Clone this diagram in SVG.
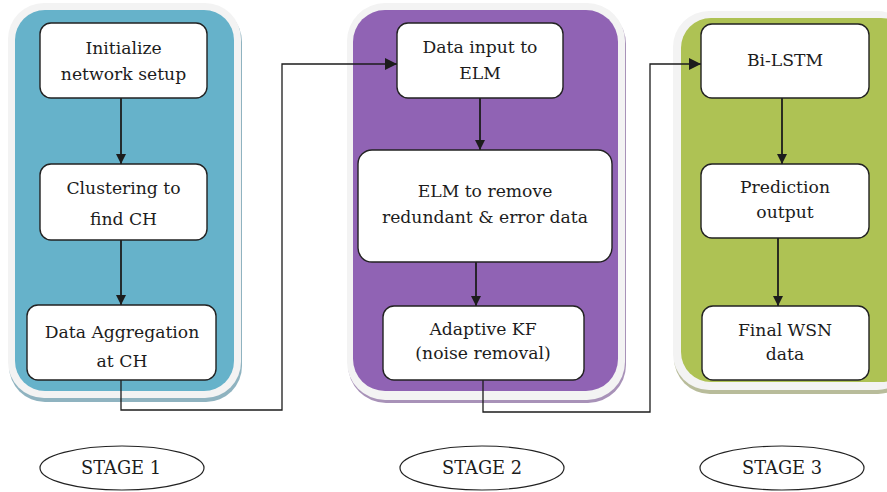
<svg xmlns="http://www.w3.org/2000/svg" width="887" height="492" viewBox="0 0 887 492">
  <style>
    .frame { fill: #f3f3f3; }
    .node rect { fill: #ffffff; stroke: #222222; stroke-width: 1.4; }
    .label { font-family: 'DejaVu Serif', serif; font-size: 17.2px; fill: #1c1c1c; text-anchor: middle; }
    .stage ellipse { fill: #ffffff; stroke: #222222; stroke-width: 1.2; }
    .stage text { font-family: 'DejaVu Serif', serif; font-size: 19px; fill: #1c1c1c; text-anchor: middle; }
    .link { fill: none; stroke: #1c1c1c; stroke-width: 1.3; }
    .flow { fill: none; stroke: #1c1c1c; stroke-width: 1.8; }
  </style>
  <defs>
    <marker id="arrow" viewBox="0 0 10 10" refX="10" refY="5" markerWidth="10" markerHeight="10" markerUnits="userSpaceOnUse" orient="auto">
      <path d="M0,0 L10,5 L0,10 Z" fill="#1c1c1c"/>
    </marker>
    <marker id="arrowBig" viewBox="0 0 10 10" refX="10" refY="5" markerWidth="12" markerHeight="12" markerUnits="userSpaceOnUse" orient="auto">
      <path d="M0,0 L10,5 L0,10 Z" fill="#1c1c1c"/>
    </marker>
  </defs>

  <rect width="887" height="492" fill="#ffffff"/>

  <!-- stage panels: soft shadow, light frame, coloured body -->
  <g id="panel1">
    <rect x="9" y="6" width="233" height="396" rx="36" fill="#8fb3c0"/>
    <rect x="8" y="3" width="233" height="395" rx="36" class="frame"/>
    <rect x="15" y="10" width="219" height="381" rx="30" fill="#66b2ca"/>
  </g>
  <g id="panel2">
    <rect x="348" y="6" width="278" height="397" rx="38" fill="#a892b8"/>
    <rect x="347" y="3" width="278" height="397" rx="38" class="frame"/>
    <rect x="353" y="10" width="265" height="381" rx="32" fill="#9063b4"/>
  </g>
  <g id="panel3">
    <rect x="674" y="14" width="240" height="380" rx="36" fill="#b8bc9a"/>
    <rect x="673" y="11" width="240" height="379" rx="36" class="frame"/>
    <rect x="681" y="18" width="230" height="364" rx="30" fill="#aec254"/>
  </g>

  <!-- connectors -->
  <g id="connectors">
    <line class="flow" x1="121" y1="98" x2="121" y2="164" marker-end="url(#arrow)"/>
    <line class="flow" x1="121" y1="240" x2="121" y2="305" marker-end="url(#arrow)"/>
    <polyline class="link" points="121,380 121,410 282,410 282,64 397,64" marker-end="url(#arrowBig)"/>
    <line class="flow" x1="480" y1="98" x2="480" y2="150" marker-end="url(#arrow)"/>
    <line class="flow" x1="476" y1="262" x2="476" y2="306" marker-end="url(#arrow)"/>
    <polyline class="link" points="483,380 483,412 650,412 650,64 701,64" marker-end="url(#arrowBig)"/>
    <line class="flow" x1="782" y1="98" x2="782" y2="164" marker-end="url(#arrow)"/>
    <line class="flow" x1="778" y1="238" x2="778" y2="306" marker-end="url(#arrow)"/>
  </g>

  <!-- stage 1 nodes -->
  <g id="init" class="node">
    <rect x="40" y="23" width="167" height="75" rx="11"/>
    <text class="label" x="123.5" y="54">Initialize</text>
    <text class="label" x="123.5" y="80">network setup</text>
  </g>
  <g id="cluster" class="node">
    <rect x="40" y="164" width="167" height="76" rx="11"/>
    <text class="label" x="123.5" y="194">Clustering to</text>
    <text class="label" x="123.5" y="225">find CH</text>
  </g>
  <g id="aggregate" class="node">
    <rect x="27" y="305" width="189" height="75" rx="11"/>
    <text class="label" x="122" y="338">Data Aggregation</text>
    <text class="label" x="122" y="367">at CH</text>
  </g>

  <!-- stage 2 nodes -->
  <g id="elmInput" class="node">
    <rect x="397" y="23" width="166" height="75" rx="11"/>
    <text class="label" x="480" y="53">Data input to</text>
    <text class="label" x="480" y="79">ELM</text>
  </g>
  <g id="elmClean" class="node">
    <rect x="358" y="150" width="254" height="112" rx="14"/>
    <text class="label" x="485" y="197">ELM to remove</text>
    <text class="label" x="485" y="223">redundant &amp; error data</text>
  </g>
  <g id="kalman" class="node">
    <rect x="383" y="306" width="201" height="74" rx="11"/>
    <text class="label" x="483" y="335">Adaptive KF</text>
    <text class="label" x="483" y="359">(noise removal)</text>
  </g>

  <!-- stage 3 nodes -->
  <g id="bilstm" class="node">
    <rect x="701" y="24" width="168" height="74" rx="11"/>
    <text class="label" x="785" y="66">Bi-LSTM</text>
  </g>
  <g id="prediction" class="node">
    <rect x="701" y="164" width="168" height="74" rx="11"/>
    <text class="label" x="785" y="193">Prediction</text>
    <text class="label" x="785" y="218">output</text>
  </g>
  <g id="final" class="node">
    <rect x="702" y="306" width="167" height="74" rx="11"/>
    <text class="label" x="785" y="336">Final WSN</text>
    <text class="label" x="785" y="360">data</text>
  </g>

  <!-- stage captions -->
  <g id="stage1" class="stage">
    <ellipse cx="122" cy="468" rx="82" ry="22"/>
    <text x="121" y="474" textLength="80" lengthAdjust="spacingAndGlyphs">STAGE 1</text>
  </g>
  <g id="stage2" class="stage">
    <ellipse cx="482" cy="468" rx="82" ry="22"/>
    <text x="482" y="474" textLength="80" lengthAdjust="spacingAndGlyphs">STAGE 2</text>
  </g>
  <g id="stage3" class="stage">
    <ellipse cx="782" cy="468" rx="82" ry="22"/>
    <text x="782" y="474" textLength="80" lengthAdjust="spacingAndGlyphs">STAGE 3</text>
  </g>
</svg>
